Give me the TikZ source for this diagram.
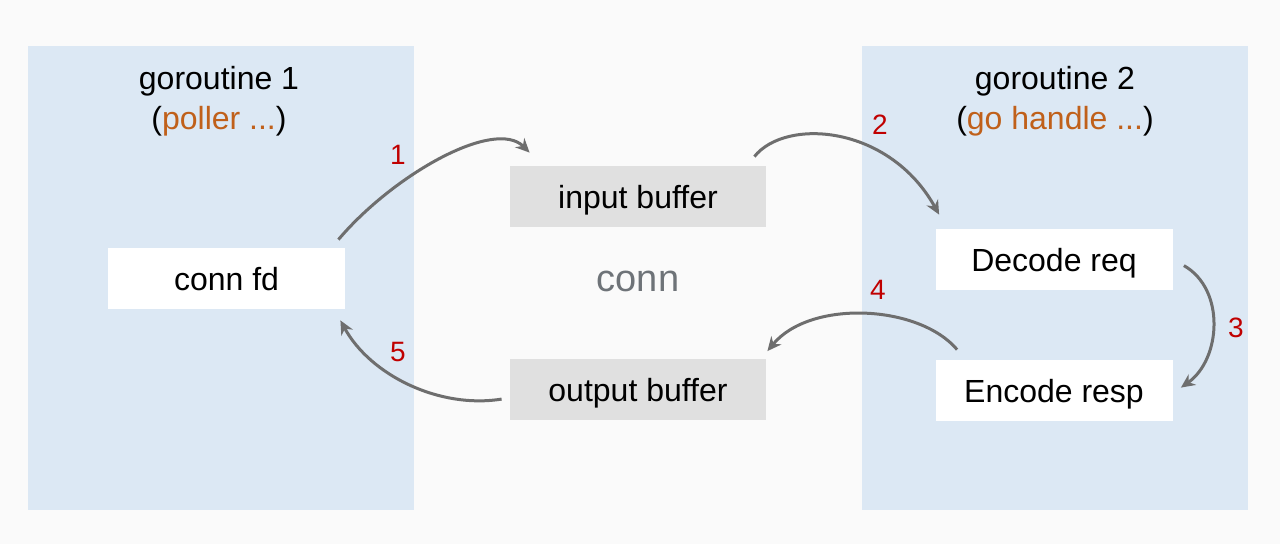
\documentclass[tikz,border=0pt]{standalone}
\usepackage{fontspec}
\setmainfont{Liberation Sans}
\usetikzlibrary{arrows.meta,calc}
\definecolor{bgc}{HTML}{FAFAFA}
\definecolor{panelc}{HTML}{DCE8F4}
\definecolor{bufc}{HTML}{E0E0E0}
\definecolor{orng}{HTML}{C0601A}
\definecolor{numc}{HTML}{C00000}
\definecolor{arrc}{HTML}{6E6E6E}
\definecolor{connc}{HTML}{6E7378}
\tikzset{
  panel/.style={fill=panelc, draw=none, minimum width=193pt, minimum height=232pt, inner sep=0pt},
  whitebox/.style={fill=white, draw=none, minimum width=118.5pt, minimum height=30.5pt, inner sep=0pt, text depth=0pt, font=\fontsize{16}{19}\selectfont},
  bufbox/.style={fill=bufc, draw=none, minimum width=128pt, minimum height=30.5pt, inner sep=0pt, text depth=0pt, font=\fontsize{16}{19}\selectfont},
  title/.style={font=\fontsize{16}{19}\selectfont, inner sep=0pt},
  num/.style={text=numc, font=\fontsize{14}{16}\selectfont, inner sep=0pt},
  flow/.style={draw=arrc, line width=1.5pt, -{Stealth[length=7pt,width=6.5pt]}},
}
\begin{document}
\begin{tikzpicture}[x=0.5pt,y=-0.5pt]
\fill[bgc] (0,0) rectangle (1280,544);
\useasboundingbox (0,0) rectangle (1280,544);
\node[panel] (p1) at (221,278) {};
\node[panel] (p2) at (1055,278) {};
\node[title] (g1) at (219,81) {goroutine 1};
\node[title] (g1b) at (219,121) {(\textcolor{orng}{poller ...})};
\node[title] (g2) at (1055,81) {goroutine 2};
\node[title] (g2b) at (1055,121) {(\textcolor{orng}{go handle ...})};
\node[whitebox] (cfd) at (226.5,278.5) {conn fd};
\node[bufbox] (ib) at (638,196.5) {input buffer};
\node[bufbox] (ob) at (638,390) {output buffer};
\node[text=connc, font=\fontsize{19}{22}\selectfont, inner sep=0pt] (conn) at (638,281) {conn};
\node[whitebox] (dec) at (1054,259.5) {Decode req};
\node[whitebox] (enc) at (1054,390.5) {Encode resp};
\coordinate (a1s) at ($(cfd.north east)+(-7,-8)$);
\coordinate (a1e) at ($(ib.north west)+(20,-13)$);
\coordinate (a2s) at ($(ib.north east)+(-12,-9)$);
\coordinate (a2e) at ($(dec.north west)+(4,-14)$);
\coordinate (a3s) at ($(dec.north east)+(11,37)$);
\coordinate (a3e) at ($(enc.north east)+(8,28)$);
\coordinate (a4s) at ($(enc.north west)+(22,-10)$);
\coordinate (a4e) at ($(ob.north east)+(1,-8)$);
\coordinate (a5s) at ($(ob.north west)+(-8,40)$);
\coordinate (a5e) at ($(cfd.south east)+(-5,11)$);
\draw[flow] (a1s) .. controls +(55,-65) and +(-35,-35) .. (a1e);
\draw[flow] (a2s) .. controls +(31,-39) and +(-50,-90) .. (a2e);
\draw[flow] (a3s) .. controls +(42,24) and +(40,-28) .. (a3e);
\draw[flow] (a4s) .. controls +(-38,-45) and +(43,-52) .. (a4e);
\draw[flow] (a5s) .. controls +(-62,10) and +(30,55) .. (a5e);
\node[num] (n1) at (398,155) {1};
\node[num] (n2) at (880,125) {2};
\node[num] (n3) at (1236,328) {3};
\node[num] (n4) at (878,290) {4};
\node[num] (n5) at (398,352) {5};
\end{tikzpicture}
\end{document}
